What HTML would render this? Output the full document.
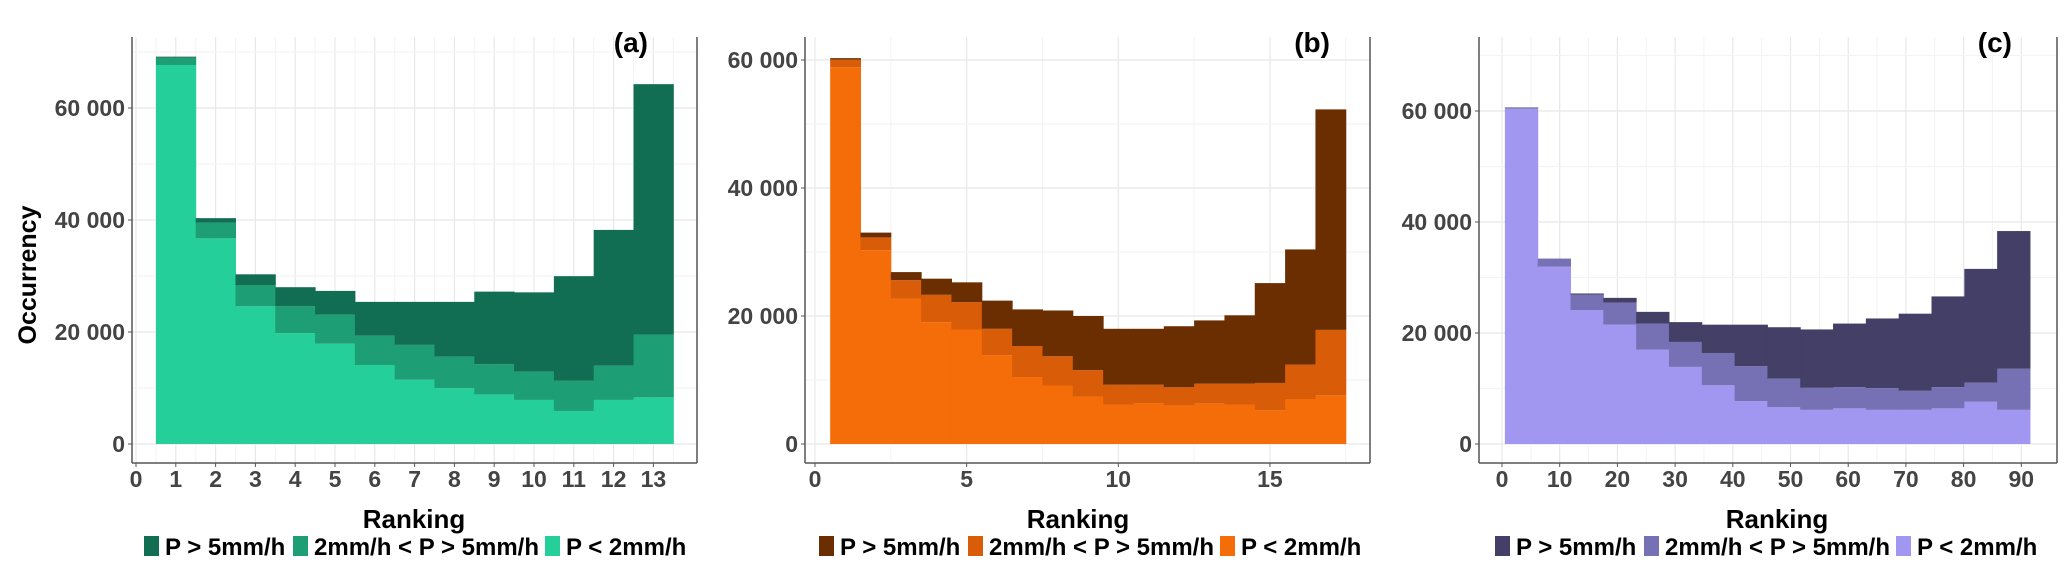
<!DOCTYPE html>
<html><head><meta charset="utf-8"><style>
body{margin:0;background:#fff;}
svg{display:block;font-family:"Liberation Sans",sans-serif;}
</style></head><body>
<svg id="chart" width="2067" height="572" viewBox="0 0 2067 572" xmlns="http://www.w3.org/2000/svg"></svg>
<script>
// Panel (a)
const aLight=[67670,36720,24590,19800,17900,14100,11470,9970,8850,7870,5900,7870,8330];
const aMid=[1300,2820,3740,4790,5180,5240,6230,5630,5380,5050,5380,6100,11210];
const aDark=[200,790,1970,3410,4260,6040,7680,9780,12980,14160,18690,24260,44720];
const aXTicks=[0,1,2,3,4,5,6,7,8,9,10,11,12,13];
// Panel (b)
const bLight=[58860,30280,22740,19030,17890,13890,10460,9140,7430,6170,6400,6000,6290,6170,5260,7030,7600];
const bMid=[1200,2000,2860,4280,4280,4110,4850,4570,4110,3090,2860,2860,3140,3260,4280,5370,10230];
const bDark=[230,750,1260,2520,3090,4400,5720,7150,8460,8740,8740,9540,9880,10680,15600,18000,34450];
const bXTicks=[0,5,10,15];
// Panel (c)
const cLight=[60400,31950,24140,21500,17000,13890,10580,7740,6620,6150,6420,6150,6150,6420,7610,6150];
const cMid=[200,1460,2780,3970,4700,4500,5820,6280,5150,3970,3830,3900,3440,3830,3440,7410];
const cDark=[60,0,200,860,2110,3570,5100,7480,9270,10520,11450,12570,13890,16340,20500,24810];
const cXTicks=[0,10,20,30,40,50,60,70,80,90];
const yTicks=[0,20000,40000,60000];
const yTickLabels=["0","20 000","40 000","60 000"];
const legendLabels=["P > 5mm/h","2mm/h < P > 5mm/h","P < 2mm/h"];

const svg=document.getElementById('chart');
const NS='http://www.w3.org/2000/svg';
function mk(tag,attrs,parent){const e=document.createElementNS(NS,tag);for(const k in attrs)e.setAttribute(k,attrs[k]);(parent||svg).appendChild(e);return e;}

const panels=[
 {id:'a',light:aLight,mid:aMid,dark:aDark,ticks:aXTicks,x0:136,ux:39.8,binStart:0.5,binW:1,
  axL:132,axR:697,y0:444,uy:112/20000,colors:['#126e52','#1d9e74','#24cf9a'],label:'(a)',lx:648,
  gridX:[0,1,2,3,4,5,6,7,8,9,10,11,12,13],minorX:[0.5,1.5,2.5,3.5,4.5,5.5,6.5,7.5,8.5,9.5,10.5,11.5,12.5,13.5],legX:144,titleX:414},
 {id:'b',light:bLight,mid:bMid,dark:bDark,ticks:bXTicks,x0:815,ux:30.33,binStart:0.5,binW:1,
  axL:805,axR:1370,y0:444,uy:128/20000,colors:['#6a2e00','#d95c08','#f46d08'],label:'(b)',lx:1330,
  gridX:[0,5,10,15],minorX:[2.5,7.5,12.5,17.5],legX:819,titleX:1078},
 {id:'c',light:cLight,mid:cMid,dark:cDark,ticks:cXTicks,x0:1502,ux:5.77,binStart:0.5,binW:5.6875,
  axL:1479,axR:2057,y0:444,uy:111/20000,colors:['#433f66','#7670b5','#a197f0'],label:'(c)',lx:2012,
  gridX:[0,10,20,30,40,50,60,70,80,90],minorX:[5,15,25,35,45,55,65,75,85],legX:1495,titleX:1777}
];

panels.forEach(p=>{
  const g=mk('g',{});
  
  
  const X=v=>p.x0+v*p.ux, Y=v=>p.y0-v*p.uy;
  const top=37,bot=463;
  p.minorX.forEach(v=>{const l=mk('line',{x1:X(v),x2:X(v),y1:top,y2:bot,stroke:'#f3f3f3','stroke-width':1},g);});
  p.gridX.forEach(v=>{const l=mk('line',{x1:X(v),x2:X(v),y1:top,y2:bot,stroke:'#e8e8e8','stroke-width':1.2},g);});
  for(let v=0;v<=70000;v+=10000){if(Y(v)<top)break;const l=mk('line',{x1:p.axL,x2:p.axR,y1:Y(v),y2:Y(v),stroke:v%20000?'#f3f3f3':'#e8e8e8','stroke-width':1.2},g);}
  p.light.forEach((lv,i)=>{
    const x1=X(p.binStart+i*p.binW), w=p.binW*p.ux;
    const segs=[[0,lv,p.colors[2],'light'],[lv,lv+p.mid[i],p.colors[1],'mid'],[lv+p.mid[i],lv+p.mid[i]+p.dark[i],p.colors[0],'dark']];
    segs.forEach(s=>{
      const r=mk('rect',{x:x1,y:Y(s[1]),width:w+0.5,height:Math.max(0,Y(s[0])-Y(s[1])),fill:s[2]},g);
      
      
    });
  });
  mk('line',{x1:p.axL,x2:p.axL,y1:top,y2:bot,stroke:'#555','stroke-width':1.5},g);
  mk('line',{x1:p.axL,x2:p.axR,y1:bot,y2:bot,stroke:'#555','stroke-width':1.5},g);
  mk('line',{x1:p.axR,x2:p.axR,y1:top,y2:bot,stroke:'#555','stroke-width':1.5},g);
  yTicks.forEach((v,i)=>{
    mk('line',{x1:p.axL-4,x2:p.axL,y1:Y(v),y2:Y(v),stroke:'#555'},g);
    const t=mk('text',{x:p.axL-7,y:Y(v)+8,'text-anchor':'end','font-size':23,'font-weight':'bold',fill:'#444'},g);
    t.textContent=yTickLabels[i];
    
    
  });
  p.ticks.forEach(v=>{
    mk('line',{x1:X(v),x2:X(v),y1:bot,y2:bot+4,stroke:'#555'},g);
    const t=mk('text',{x:X(v),y:487,'text-anchor':'middle','font-size':23,'font-weight':'bold',fill:'#444'},g);
    t.textContent=v;
    
    
  });
  const tt=mk('text',{x:p.titleX,y:528,'text-anchor':'middle','font-size':26,'font-weight':'bold',fill:'#000'},g);
  tt.textContent='Ranking';
  
  
  const pl=mk('text',{x:p.lx,y:52,'text-anchor':'end','font-size':28,'font-weight':'bold',fill:'#000'},g);
  pl.textContent=p.label;
  
  
  let lx=p.legX;
  const widths=[149,252,0];
  legendLabels.forEach((lab,i)=>{
    const r=mk('rect',{x:lx,y:536,width:15,height:20,fill:p.colors[i]},g);
    
    
    const t=mk('text',{x:lx+21,y:555,'font-size':24,'font-weight':'bold',fill:'#000'},g);
    t.textContent=lab;
    
    
    lx+=widths[i];
  });
});
const yt=mk('text',{x:0,y:0,transform:'translate(36,275) rotate(-90)','text-anchor':'middle','font-size':25,'font-weight':'bold',fill:'#000'});
yt.textContent='Occurrency';


</script>
</body></html>
